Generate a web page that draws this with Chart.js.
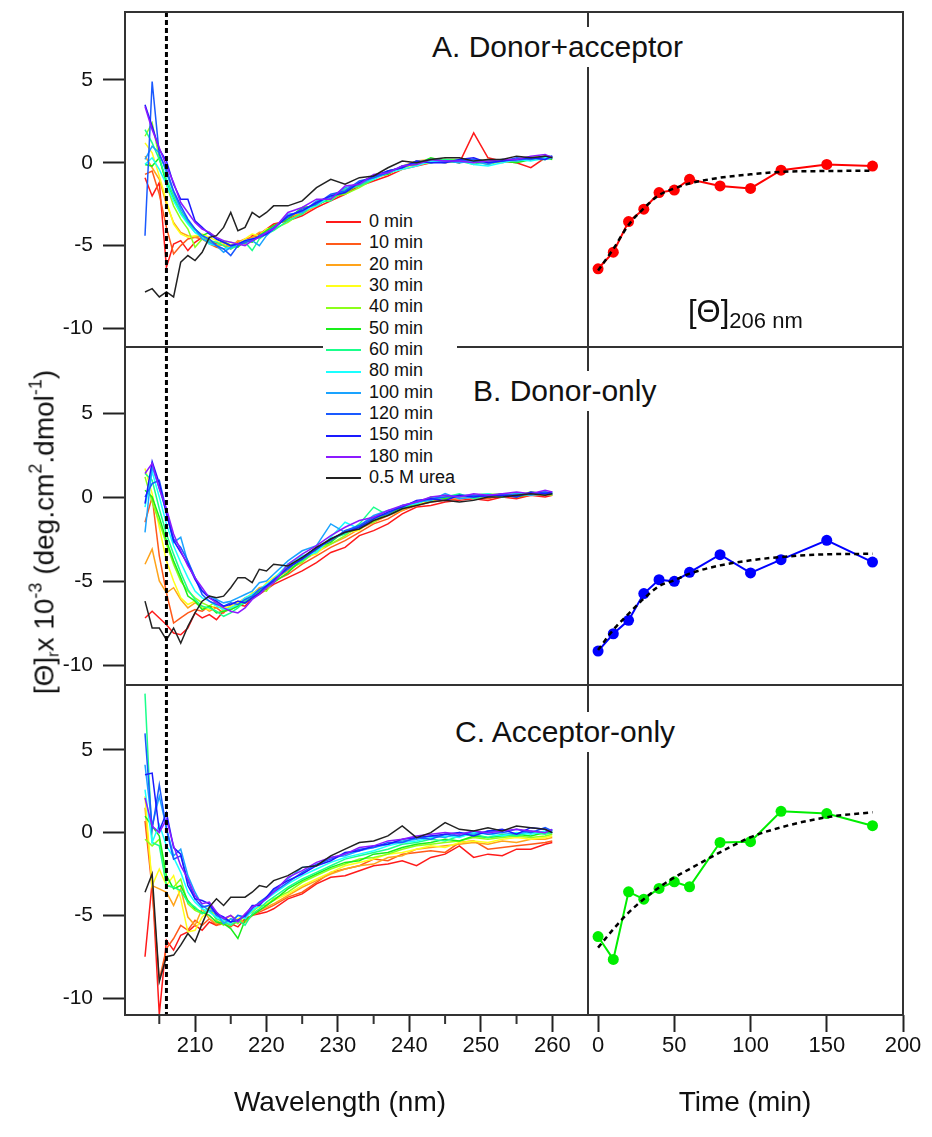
<!DOCTYPE html>
<html>
<head>
<meta charset="utf-8">
<script src="https://cdn.jsdelivr.net/npm/chart.js@4.4.0/dist/chart.umd.min.js"></script>
<style>
  body { margin: 0; background: #fff; }
  #wrap { position: relative; width: 932px; height: 1137px; overflow: hidden; }
  #c { position: absolute; left: 0; top: 0; }
  .txt { position: absolute; font-family: 'Liberation Sans', Arial, sans-serif; color: #111; white-space: nowrap; }
  .title { font-size: 30px; line-height: 40px; background: #fff; padding: 0 2px; }
  #legend { left: 323px; top: 205px; width: 134px; background: #fff; padding: 6px 0 4px 0; font-size: 18px; }
  #legend .row { height: 21.33px; line-height: 21.33px; }
  #legend .sw { display: inline-block; width: 35px; height: 2px; margin: 0 8px 0 3px; vertical-align: middle; }
  #theta { left: 688px; top: 296px; font-size: 31px; line-height: 1; }
  #theta sub { font-size: 22px; vertical-align: -6px; }
  .axt { font-size: 28px; transform: translate(-50%, -50%); }
  #ytitle { left: 44px; top: 532px; font-size: 28px; line-height: 1; transform: translate(-50%, -50%) rotate(-90deg); }
  #ytitle sup { font-size: 18px; vertical-align: 12px; }
  #ytitle sub { font-size: 16px; vertical-align: -5px; }
</style>
</head>
<body>
<div id="wrap">
  <canvas id="c" width="932" height="1137"></canvas>
  <div class="txt title" style="left:430px;top:27px;">A. Donor+acceptor</div>
  <div class="txt title" style="left:471px;top:371px;">B. Donor-only</div>
  <div class="txt title" style="left:453px;top:712px;">C. Acceptor-only</div>
  <div class="txt" id="theta">[&Theta;]<sub>206 nm</sub></div>
  <div class="txt" id="legend"></div>
  <div class="txt" id="ytitle">[&Theta;]<sub>r</sub>x 10<sup>-3</sup> (deg.cm<sup>2</sup>.dmol<sup>-1</sup>)</div>
  <div class="txt axt" style="left:340px;top:1102px;">Wavelength (nm)</div>
  <div class="txt axt" style="left:745px;top:1102px;">Time (min)</div>
</div>
<script>
/* ---- spectra: wavelength grid and series ---- */
const WAVELENGTH = [203,204,205,206,207,208,209,210,211,212,213,214,215,216,217,218,219,220,221,
                    223,225,227,229,231,233,235,237,239,241,243,245,247,249,251,253,255,257,259,260];

const SERIES_LABELS = ['0 min','10 min','20 min','30 min','40 min','50 min','60 min',
                       '80 min','100 min','120 min','150 min','180 min','0.5 M urea'];
const SERIES_COLORS = ['#ff1a1a','#ff5a1a','#ffa31a','#ffff1a','#8cff1a','#1aee1a','#1aff8c',
                       '#1affff','#1aa3ff','#1a5aff','#1a1aff','#8c1aff','#222222'];

// A. Donor+acceptor
const SPECTRA_A = [
  [-0.9,-2.0,-1.2,-6.3,-4.9,-4.7,-5.3,-4.8,-4.5,-4.7,-4.9,-5.0,-5.2,-4.8,-4.9,-4.4,-4.3,-4.0,-3.7,-3.5,-3.2,-2.7,-2.3,-1.9,-1.4,-1.1,-0.8,-0.4,-0.2,0.0,0.2,0.0,1.8,0.3,0.1,0.0,-0.3,0.3,0.3],
  [-0.7,-0.5,-1.9,-3.9,-5.5,-5.0,-4.6,-4.5,-4.6,-4.9,-5.1,-5.2,-5.0,-4.8,-4.6,-4.5,-4.4,-4.1,-3.8,-3.4,-3.0,-2.4,-2.2,-1.8,-1.2,-1.0,-0.5,-0.3,0.0,0.1,0.0,0.2,0.1,0.0,0.2,0.1,0.2,0.4,0.3],
  [0.4,-0.3,-1.0,-2.5,-3.6,-4.2,-4.4,-4.5,-4.4,-4.7,-5.0,-4.9,-5.1,-4.7,-4.8,-4.5,-4.2,-4.2,-3.9,-3.2,-3.1,-2.6,-2.0,-1.6,-1.4,-0.9,-0.7,-0.2,0.1,0.2,0.0,0.1,0.2,0.1,0.0,0.2,0.3,0.2,0.4],
  [1.2,0.6,-0.8,-2.3,-3.7,-4.3,-4.5,-4.4,-4.3,-4.5,-4.7,-5.0,-4.8,-4.9,-4.6,-4.3,-4.4,-4.0,-3.9,-3.3,-2.8,-2.5,-2.2,-1.7,-1.2,-0.8,-0.6,-0.4,-0.1,0.0,0.2,0.1,0.0,0.2,0.1,0.1,0.2,0.3,0.3],
  [1.6,2.4,0.3,-1.3,-2.6,-3.4,-4.0,-5.1,-4.6,-4.8,-5.0,-4.7,-5.0,-4.9,-4.8,-4.6,-4.5,-4.3,-4.0,-3.6,-3.0,-2.4,-2.0,-1.9,-1.5,-1.0,-0.6,-0.3,0.0,0.1,0.2,0.2,0.1,-0.1,0.1,0.2,0.3,0.4,0.3],
  [-0.1,-0.2,0.3,-1.2,-2.2,-3.0,-3.6,-4.0,-4.4,-4.2,-4.6,-4.8,-5.0,-5.1,-4.7,-4.8,-4.4,-4.1,-3.8,-3.4,-2.7,-2.6,-2.1,-1.8,-1.3,-0.8,-0.7,-0.2,-0.1,0.3,0.1,0.0,0.2,0.1,0.1,0.0,0.2,0.3,0.2],
  [2.0,1.2,0.2,-1.0,-2.0,-3.0,-3.6,-4.2,-4.4,-4.7,-4.8,-5.0,-5.2,-5.0,-4.8,-5.3,-4.6,-4.3,-4.1,-3.5,-3.1,-2.4,-2.3,-1.6,-1.4,-1.0,-0.5,-0.3,0.0,0.0,0.2,0.1,-0.1,0.1,0.2,0.1,0.2,0.2,0.3],
  [-0.1,0.3,-0.4,-1.3,-2.3,-3.1,-3.7,-4.2,-4.5,-4.9,-5.0,-5.2,-5.1,-4.9,-4.7,-4.6,-4.5,-4.3,-4.0,-3.2,-2.9,-2.6,-2.0,-1.7,-1.2,-1.0,-0.6,-0.4,-0.2,0.1,0.0,0.2,-0.1,-0.2,0.0,0.2,0.1,0.3,0.3],
  [0.2,1.0,0.6,-0.6,-1.8,-2.8,-3.5,-4.0,-4.6,-4.8,-5.0,-5.4,-5.1,-4.9,-4.8,-4.7,-5.0,-4.4,-4.0,-3.1,-3.0,-2.3,-2.1,-1.5,-1.3,-0.9,-0.5,-0.3,0.1,0.0,0.1,0.0,0.1,-0.1,0.2,0.1,0.3,0.2,0.3],
  [-4.4,4.9,0.5,-0.4,-1.7,-2.6,-3.4,-4.0,-4.4,-4.6,-5.0,-5.2,-5.6,-5.0,-4.8,-4.7,-4.4,-4.2,-3.9,-3.3,-2.8,-2.5,-1.9,-1.7,-1.1,-0.9,-0.6,-0.2,0.0,0.2,0.1,0.1,0.2,0.0,0.1,0.3,0.2,0.4,0.4],
  [3.5,2.2,0.8,0.1,-1.3,-2.2,-2.2,-3.5,-3.9,-4.3,-4.6,-4.8,-5.0,-4.9,-4.7,-4.6,-4.5,-4.3,-4.0,-3.2,-2.9,-2.4,-2.0,-1.8,-1.2,-0.8,-0.5,-0.3,0.1,0.0,0.0,0.2,0.3,0.0,0.1,0.2,0.3,0.2,0.4],
  [3.4,2.0,0.9,-0.2,-1.2,-2.4,-3.0,-3.6,-4.0,-4.2,-4.5,-4.7,-4.8,-4.9,-5.0,-4.7,-4.5,-4.2,-4.0,-3.0,-2.7,-2.2,-2.2,-1.4,-1.3,-0.7,-0.6,-0.2,-0.1,0.2,0.1,0.1,0.0,0.1,0.2,0.2,0.4,0.5,0.3],
  [-7.8,-7.6,-8.1,-7.8,-8.1,-6.0,-5.6,-5.9,-5.4,-4.5,-4.4,-3.9,-3.0,-4.1,-3.9,-3.0,-3.3,-3.0,-2.6,-2.6,-2.3,-1.5,-1.0,-1.3,-0.9,-0.8,-0.3,0.1,0.0,0.2,0.3,0.3,0.1,0.2,0.2,0.4,0.3,0.4,0.3]
];

// B. Donor-only
const SPECTRA_B = [
  [-7.2,-6.8,-7.2,-7.6,-8.1,-8.2,-7.8,-6.9,-7.2,-7.0,-7.3,-6.8,-6.7,-6.4,-6.5,-6.0,-5.8,-5.5,-5.2,-4.8,-4.4,-3.9,-3.3,-3.0,-2.3,-2.0,-1.6,-1.0,-0.6,-0.5,-0.3,-0.2,-0.1,-0.2,0.0,-0.1,0.1,0.0,0.1],
  [-1.5,0.0,-3.5,-5.7,-7.5,-7.2,-6.9,-6.7,-6.8,-6.5,-6.6,-6.9,-6.4,-6.2,-6.3,-5.9,-5.6,-5.2,-5.0,-4.6,-4.0,-3.5,-3.0,-2.6,-2.1,-1.6,-1.3,-0.8,-0.5,-0.3,-0.2,-0.1,0.0,-0.1,0.1,0.0,0.1,0.2,0.1],
  [-4.0,-3.1,-5.0,-5.7,-5.4,-6.1,-6.6,-6.3,-6.5,-6.8,-6.6,-6.5,-6.7,-6.3,-6.0,-5.8,-5.4,-5.3,-4.9,-4.4,-3.8,-3.3,-2.8,-2.4,-1.9,-1.5,-1.1,-0.8,-0.4,-0.3,0.0,-0.1,0.1,0.0,0.2,0.1,0.2,0.1,0.2],
  [1.7,0.2,-1.8,-3.8,-5.0,-6.0,-6.4,-6.2,-6.6,-6.7,-6.4,-6.6,-6.5,-6.3,-6.1,-5.7,-5.6,-5.1,-4.8,-4.2,-3.6,-3.4,-2.6,-2.1,-2.0,-1.2,-1.0,-0.6,-0.5,-0.1,-0.1,0.1,0.0,0.1,0.0,0.2,0.1,0.2,0.2],
  [1.2,-0.3,-1.5,-2.8,-4.0,-5.0,-5.6,-6.0,-6.3,-6.5,-6.2,-6.8,-6.6,-6.4,-6.2,-5.8,-5.5,-5.6,-5.0,-4.3,-3.9,-3.1,-2.8,-2.3,-1.7,-1.5,-0.9,-0.7,-0.3,-0.2,0.1,0.0,0.1,0.2,0.1,0.1,0.3,0.2,0.1],
  [0.4,0.0,-1.2,-2.6,-3.8,-4.8,-5.9,-6.2,-6.7,-6.5,-6.9,-6.8,-6.7,-6.5,-6.3,-6.0,-5.6,-5.3,-5.1,-4.5,-3.7,-3.0,-2.7,-2.0,-1.8,-1.3,-1.0,-0.6,-0.4,0.0,-0.1,0.1,0.0,0.1,0.2,0.0,0.2,0.3,0.2],
  [1.4,1.0,-0.7,-2.2,-3.4,-4.5,-5.5,-6.1,-6.5,-6.6,-6.8,-7.1,-6.9,-6.6,-6.2,-5.9,-5.7,-5.4,-5.0,-4.1,-3.8,-3.2,-2.5,-2.2,-1.6,-0.6,-1.1,-0.7,-0.3,-0.2,0.0,0.2,-0.1,0.1,0.1,0.2,0.2,0.2,0.3],
  [-0.6,1.5,0.0,-1.6,-2.9,-3.9,-4.8,-5.6,-6.0,-6.2,-6.5,-6.7,-6.6,-6.4,-6.0,-5.8,-5.5,-5.2,-4.9,-4.0,-3.5,-3.3,-2.4,-1.5,-1.9,-1.3,-0.9,-0.5,-0.4,-0.1,0.1,0.0,0.1,0.2,0.0,0.1,0.2,0.3,0.2],
  [-2.1,1.8,0.5,-0.9,-2.7,-2.4,-3.9,-4.8,-5.6,-5.9,-6.1,-6.3,-6.2,-6.0,-5.8,-5.6,-5.1,-5.0,-4.6,-3.8,-3.2,-2.9,-1.6,-2.1,-1.7,-1.1,-0.8,-0.6,-0.3,-0.2,0.2,-0.1,0.0,0.1,0.1,0.2,0.1,0.2,0.2],
  [0.0,0.8,1.0,-0.8,-2.5,-3.0,-3.8,-4.8,-5.8,-6.2,-6.4,-6.5,-6.3,-6.4,-6.1,-5.9,-5.5,-5.3,-4.9,-4.3,-3.6,-3.0,-2.6,-2.0,-1.7,-1.2,-1.0,-0.5,-0.3,-0.1,0.0,0.1,0.1,0.0,0.2,0.1,0.2,0.3,0.2],
  [-0.4,2.1,0.8,-1.0,-2.6,-3.3,-4.0,-4.9,-5.6,-6.0,-6.2,-6.5,-6.4,-6.2,-6.3,-6.0,-5.7,-5.3,-5.0,-4.2,-3.7,-3.1,-2.5,-2.1,-1.8,-1.3,-0.9,-0.6,-0.2,-0.1,-0.2,0.1,0.0,0.1,0.1,0.0,0.3,0.2,0.3],
  [1.4,2.0,0.5,-0.7,-2.2,-3.2,-4.1,-4.8,-5.4,-6.0,-6.3,-6.6,-6.8,-6.9,-6.6,-6.1,-5.8,-5.4,-5.1,-4.0,-3.4,-2.9,-2.3,-1.8,-1.4,-1.2,-0.8,-0.5,-0.3,0.0,0.1,0.0,0.2,0.1,0.2,0.3,0.2,0.4,0.3],
  [-6.2,-7.8,-7.8,-8.5,-7.8,-8.7,-7.7,-6.9,-6.2,-5.9,-6.0,-5.9,-5.4,-4.8,-4.8,-5.1,-4.3,-4.4,-4.0,-4.1,-3.6,-3.0,-2.5,-2.1,-1.9,-1.4,-1.1,-0.7,-0.5,-0.3,-0.2,-0.3,-0.2,0.0,0.0,0.1,0.2,0.1,0.2]
];

// C. Acceptor-only
const SPECTRA_C = [
  [-7.5,-3.0,-11.0,-6.5,-7.1,-6.2,-6.0,-5.6,-5.9,-5.4,-5.6,-5.3,-5.5,-5.7,-5.2,-5.0,-4.9,-4.8,-4.6,-4.0,-3.7,-3.1,-2.7,-2.6,-2.3,-2.0,-1.9,-1.7,-2.0,-1.5,-1.3,-0.8,-1.5,-1.3,-1.4,-1.0,-1.0,-0.7,-0.6],
  [0.7,-3.4,-8.9,-7.0,-6.4,-5.6,-5.9,-5.3,-5.6,-5.2,-5.6,-5.5,-5.7,-5.3,-5.4,-5.0,-4.8,-4.6,-4.4,-3.9,-3.6,-3.0,-2.4,-2.2,-2.0,-1.6,-1.7,-1.3,-1.2,-1.1,-1.2,-0.6,-0.5,-1.0,-0.9,-0.8,-0.7,-0.6,-0.5],
  [1.5,-3.2,-3.4,-3.6,-4.4,-3.4,-5.1,-5.6,-4.6,-5.2,-5.5,-5.3,-5.0,-5.3,-5.4,-5.0,-4.7,-4.5,-4.3,-3.8,-3.3,-2.9,-2.5,-2.2,-2.0,-1.9,-1.5,-1.4,-1.0,-0.9,-0.8,-0.7,-0.6,-0.7,-0.5,-0.6,-0.4,-0.4,-0.3],
  [2.2,-3.2,-2.2,-3.2,-2.6,-4.0,-6.0,-5.9,-5.1,-4.7,-5.0,-5.4,-5.6,-5.2,-5.0,-4.7,-4.5,-4.3,-4.1,-3.7,-3.2,-2.8,-2.4,-2.0,-1.8,-1.6,-1.3,-1.2,-1.0,-0.8,-0.9,-0.6,-0.5,-0.6,-0.4,-0.3,-0.4,-0.3,-0.2],
  [-0.4,-0.8,-0.4,-3.2,-3.3,-2.8,-4.3,-4.7,-4.9,-4.5,-5.3,-5.6,-5.2,-5.5,-5.0,-4.8,-4.4,-4.4,-4.0,-3.6,-3.0,-2.6,-2.2,-1.9,-1.6,-1.5,-1.3,-1.0,-0.8,-0.7,-0.6,-0.5,-0.3,-0.4,-0.3,-0.2,-0.3,-0.2,-0.1],
  [1.0,0.4,-0.2,-2.6,-3.4,-3.2,-4.1,-4.6,-4.8,-5.0,-5.4,-5.5,-5.8,-6.4,-5.3,-5.0,-4.7,-4.4,-4.1,-3.4,-2.9,-2.5,-2.1,-1.8,-1.7,-1.3,-1.2,-0.9,-0.7,-0.6,-0.4,-0.5,-0.2,-0.3,-0.2,-0.1,-0.2,0.0,0.0],
  [8.4,-0.6,-0.8,-3.2,-3.3,-3.5,-4.2,-4.5,-4.9,-4.7,-5.2,-5.4,-5.6,-5.3,-5.6,-4.9,-4.6,-4.2,-3.9,-3.3,-2.8,-2.4,-2.0,-1.6,-1.4,-1.2,-1.0,-0.7,-0.6,-0.4,-0.5,-0.2,-0.1,-0.3,-0.1,-0.2,0.0,-0.1,0.0],
  [2.6,-0.6,0.5,-0.8,-1.5,-2.4,-3.6,-4.2,-4.6,-4.8,-5.1,-5.3,-5.5,-5.0,-5.2,-4.7,-4.4,-4.0,-3.7,-3.1,-2.6,-2.2,-1.8,-1.5,-1.3,-1.1,-0.8,-0.6,-0.5,-0.3,-0.2,-0.3,0.0,-0.1,-0.2,0.0,-0.1,0.1,0.1],
  [4.1,0.4,2.2,0.3,-1.4,-1.0,-2.6,-3.6,-4.4,-4.7,-4.8,-5.5,-5.2,-5.3,-5.0,-4.5,-4.3,-3.9,-3.5,-2.8,-2.1,-2.0,-1.5,-1.4,-1.1,-0.9,-0.7,-0.5,-0.4,-0.2,-0.3,0.0,-0.1,0.1,0.0,-0.1,0.1,0.0,0.2],
  [6.0,0.2,2.9,0.2,-1.6,-1.4,-2.9,-4.0,-4.5,-4.4,-5.0,-5.2,-5.4,-5.0,-5.1,-4.6,-4.2,-3.9,-3.6,-3.0,-2.4,-1.9,-1.6,-1.3,-1.0,-0.9,-0.6,-0.6,-0.3,-0.4,-0.1,-0.2,0.1,-0.1,0.0,0.2,0.0,0.3,0.1],
  [3.5,3.6,0.1,1.2,-0.9,-1.3,-3.2,-4.0,-4.1,-4.3,-4.9,-5.1,-5.4,-5.3,-5.0,-4.4,-4.4,-3.9,-3.4,-2.9,-2.5,-2.0,-1.7,-1.2,-1.1,-0.8,-0.7,-0.4,-0.3,-0.2,-0.1,0.0,-0.2,0.1,0.2,-0.1,0.3,0.2,0.0],
  [2.1,0.4,0.0,0.8,-0.8,-2.0,-2.8,-3.8,-4.3,-4.2,-4.8,-5.2,-5.0,-5.4,-4.9,-4.5,-4.3,-4.0,-3.6,-2.7,-2.3,-1.8,-1.5,-1.3,-0.9,-0.8,-0.5,-0.4,-0.2,-0.1,0.0,-0.1,0.1,0.0,0.1,0.2,0.1,0.0,0.2],
  [-3.6,-2.5,-9.0,-7.5,-7.4,-6.8,-6.1,-6.6,-5.5,-4.5,-4.0,-4.4,-3.9,-3.9,-3.9,-3.6,-3.2,-3.3,-2.9,-2.6,-2.1,-2.0,-1.4,-1.0,-0.6,-0.5,-0.2,0.4,-0.3,0.0,0.6,0.2,0.1,0.3,0.1,0.4,0.3,0.2,0.0]
];

/* ---- [Θ] at 206 nm versus time, with fitted curves ---- */
const TIME_MIN = [0,10,20,30,40,50,60,80,100,120,150,180];
const THETA206_A = [-6.4,-5.4,-3.55,-2.8,-1.8,-1.65,-1.0,-1.4,-1.55,-0.45,-0.1,-0.2];
const FIT_A      = [-6.5,-5.2,-3.75,-2.75,-1.95,-1.55,-1.25,-0.9,-0.7,-0.55,-0.5,-0.48];
const THETA206_B = [-9.17,-8.14,-7.34,-5.75,-4.92,-5.02,-4.48,-3.43,-4.52,-3.73,-2.58,-3.87];
const FIT_B      = [-9.1,-7.9,-6.95,-6.05,-5.3,-4.96,-4.56,-4.07,-3.77,-3.57,-3.41,-3.38];
const THETA206_C = [-6.28,-7.66,-3.58,-4.02,-3.37,-2.97,-3.27,-0.59,-0.55,1.29,1.15,0.42];
const FIT_C      = [-6.95,-5.84,-4.83,-4.02,-3.31,-2.71,-2.2,-1.19,-0.28,0.32,0.93,1.23];

/* ---- axes ---- */
const Y_TICKS = [-10,-5,0,5];
const WL_TICKS = [210,220,230,240,250,260];
const WL_MINOR = [205,215,225,235,245,255];
const TIME_TICKS = [0,50,100,150,200];
const MARK_WL = 206;

const FONT = "'Liberation Sans', Arial, sans-serif";

// legend (HTML)
document.getElementById('legend').innerHTML = SERIES_LABELS.map((l, i) =>
  `<div class="row"><span class="sw" style="background:${SERIES_COLORS[i]}"></span>${l}</div>`).join('');

function spectraSets(spectra, yId) {
  return spectra.map((vals, k) => ({
    data: WAVELENGTH.map((w, i) => ({ x: w, y: vals[i] })),
    xAxisID: 'xW', yAxisID: yId,
    borderColor: SERIES_COLORS[k], borderWidth: 1.5,
    pointRadius: 0, tension: 0, clip: false,
    order: 100 - k,
  }));
}

function timeSets(theta, fit, color, yId) {
  return [
    {
      data: TIME_MIN.map((t, i) => ({ x: t, y: theta[i] })),
      xAxisID: 'xT', yAxisID: yId,
      borderColor: color, backgroundColor: color, borderWidth: 2,
      pointRadius: 5.5, pointBorderWidth: 0, order: -5,
    },
    {
      data: TIME_MIN.map((t, i) => ({ x: t, y: fit[i] })),
      xAxisID: 'xT', yAxisID: yId,
      borderColor: '#000', borderWidth: 2.5, borderDash: [5, 4],
      pointRadius: 0, cubicInterpolationMode: 'monotone', order: -10,
    },
  ];
}

function yScale(min, max, weight, stackWeight) {
  return {
    type: 'linear', axis: 'y', position: 'left', stack: 'rows', stackWeight, weight,
    min, max,
    afterBuildTicks: s => { s.ticks = Y_TICKS.map(v => ({ value: v })); },
    afterFit: s => { s.width = 125; s.paddingTop = 0; s.paddingBottom = 0; },
    grid: { drawOnChartArea: false, tickLength: 22, tickColor: '#222', tickWidth: 2 },
    border: { display: false },
    ticks: { padding: 10, autoSkip: false, color: '#111', font: { family: FONT, size: 21 } },
  };
}

function xScale(min, max, ticks, weight, stackWeight) {
  return {
    type: 'linear', axis: 'x', position: 'bottom', stack: 'cols', stackWeight, weight,
    min, max,
    afterBuildTicks: s => { s.ticks = ticks.map(v => ({ value: v })); },
    afterFit: s => { s.height = 122; s.paddingLeft = 0; s.paddingRight = 0; },
    grid: { drawOnChartArea: false, tickLength: 17, tickColor: '#222', tickWidth: 2 },
    border: { display: false },
    ticks: { padding: 1, autoSkip: false, maxRotation: 0, color: '#111', font: { family: FONT, size: 22 } },
  };
}

// frame, panel dividers, 206 nm marker, minor wavelength ticks
const panelFrame = {
  id: 'panelFrame',
  afterDatasetsDraw(chart) {
    const { ctx, chartArea: a, scales } = chart;
    const xW = scales.xW;
    ctx.save();
    const xd = xW.getPixelForValue(MARK_WL);
    ctx.strokeStyle = '#000';
    ctx.lineWidth = 3;
    ctx.setLineDash([5, 3]);
    ctx.beginPath(); ctx.moveTo(xd, a.top); ctx.lineTo(xd, a.bottom); ctx.stroke();
    ctx.setLineDash([]);

    ctx.strokeStyle = '#333';
    ctx.lineWidth = 2;
    ctx.strokeRect(a.left, a.top, a.right - a.left, a.bottom - a.top);
    ctx.beginPath();
    ctx.moveTo(xW.right, a.top); ctx.lineTo(xW.right, a.bottom);
    ['yA', 'yB'].forEach(id => {
      const y = scales[id].bottom;
      ctx.moveTo(a.left, y); ctx.lineTo(a.right, y);
    });
    WL_MINOR.forEach(v => {
      const x = xW.getPixelForValue(v);
      ctx.moveTo(x, a.bottom); ctx.lineTo(x, a.bottom + 9);
    });
    ctx.stroke();
    ctx.restore();
  },
};

new Chart(document.getElementById('c'), {
  type: 'line',
  data: {
    datasets: [
      ...spectraSets(SPECTRA_A, 'yA'),
      ...spectraSets(SPECTRA_B, 'yB'),
      ...spectraSets(SPECTRA_C, 'yC'),
      ...timeSets(THETA206_A, FIT_A, '#ff0000', 'yA'),
      ...timeSets(THETA206_B, FIT_B, '#0000ff', 'yB'),
      ...timeSets(THETA206_C, FIT_C, '#00ee00', 'yC'),
    ],
  },
  options: {
    responsive: false,
    devicePixelRatio: 1,
    animation: false,
    events: [],
    layout: { padding: { left: 0, top: 12, right: 29, bottom: 0 } },
    plugins: { legend: { display: false }, tooltip: { enabled: false } },
    scales: {
      xW: xScale(200.2, 265, WL_TICKS, 0, 463),
      xT: xScale(-6.6, 200, TIME_TICKS, 1, 315),
      yA: yScale(-11.12, 9.1, 3, 335),
      yB: yScale(-11.19, 8.93, 2, 338),
      yC: yScale(-11.02, 8.92, 1, 330),
    },
  },
  plugins: [panelFrame],
});
</script>
</body>
</html>
